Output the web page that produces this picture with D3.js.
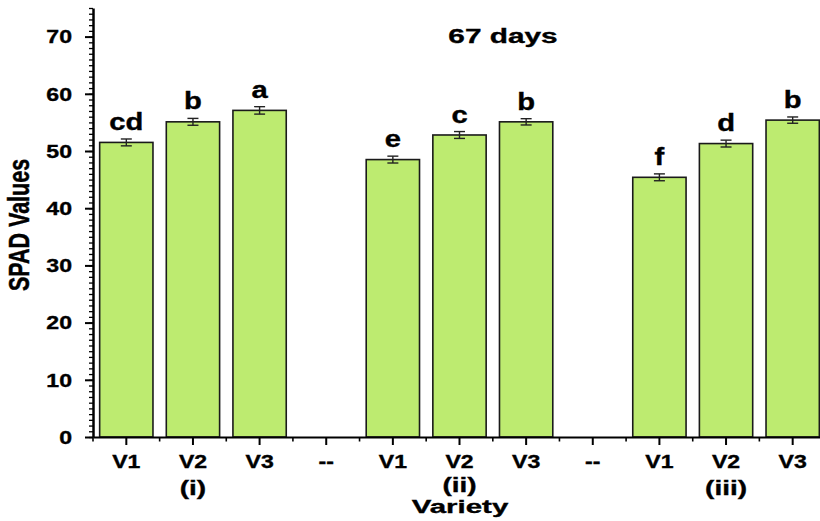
<!DOCTYPE html>
<html>
<head>
<meta charset="utf-8">
<script src="https://cdn.jsdelivr.net/npm/d3@7"></script>
<style>
body { margin: 0; background: #fff; }
svg text { font-family: "Liberation Sans", Arial, sans-serif; font-weight: bold; fill: #000; stroke: #000; stroke-width: 0.35px; }
</style>
</head>
<body>
<div id="chart"></div>
<script>
// data
var categories = ["V1", "V2", "V3", "--", "V1", "V2", "V3", "--", "V1", "V2", "V3"];
var spadValues = [51.5, 55.1, 57.1, null, 48.5, 52.8, 55.1, null, 45.4, 51.3, 55.4];
var spadErrors = [0.6, 0.6, 0.65, null, 0.6, 0.6, 0.55, null, 0.6, 0.6, 0.55];
var letters = ["cd", "b", "a", null, "e", "c", "b", null, "f", "d", "b"];
var groupLabels = ["(i)", "(ii)", "(iii)"];
var groupIndex = [1, 5, 9];
var yMajorTicks = [0, 10, 20, 30, 40, 50, 60, 70];
var titleText = "67 days";

var width = 820, height = 521;
var margin = {top: 8, right: -6, bottom: 84, left: 93};

var svg = d3.select("#chart").append("svg")
    .attr("width", width)
    .attr("height", height);

var idx = d3.range(categories.length);

var x = d3.scaleBand()
    .domain(idx)
    .range([margin.left, width - margin.right])
    .paddingInner(0.2)
    .paddingOuter(0.1);

var y = d3.scaleLinear()
    .domain([0, 75])
    .range([height - margin.bottom, margin.top]);

// stretch text horizontally like the reference
function stretch(sel, k) {
    sel.each(function () {
        var t = d3.select(this);
        var tx = +t.attr("x") || 0, ty = +t.attr("y") || 0;
        t.attr("x", 0).attr("y", 0)
         .attr("transform", "translate(" + tx + "," + ty + ") scale(" + k + ",1)");
    });
}

var bars = idx.filter(function (i) { return spadValues[i] != null; });

// bars
svg.append("g").selectAll("rect").data(bars)
    .enter().append("rect")
    .attr("x", function (i) { return x(i); })
    .attr("y", function (i) { return y(spadValues[i]); })
    .attr("width", x.bandwidth())
    .attr("height", function (i) { return y(0) - y(spadValues[i]); })
    .attr("fill", "#bdeb70")
    .attr("stroke", "#1a1a1a")
    .attr("stroke-width", 1.6);

// error bars
var eb = svg.append("g").attr("stroke", "#222").attr("stroke-width", 1.4);
bars.forEach(function (i) {
    var cx = x(i) + x.bandwidth() / 2;
    var lo = y(spadValues[i] - spadErrors[i]), hi = y(spadValues[i] + spadErrors[i]);
    eb.append("line").attr("x1", cx).attr("x2", cx).attr("y1", lo).attr("y2", hi);
    eb.append("line").attr("x1", cx - 5.5).attr("x2", cx + 5.5).attr("y1", lo).attr("y2", lo);
    eb.append("line").attr("x1", cx - 5.5).attr("x2", cx + 5.5).attr("y1", hi).attr("y2", hi);
});

// significance letters
svg.append("g").selectAll("text").data(bars)
    .enter().append("text")
    .attr("x", function (i) { return x(i) + x.bandwidth() / 2; })
    .attr("y", function (i) { return y(spadValues[i] + spadErrors[i]) - 9; })
    .attr("text-anchor", "middle")
    .style("font-size", "23px")
    .text(function (i) { return letters[i]; })
    .call(stretch, 1.27);

// y axis: major and minor ticks
var yMinor = svg.append("g")
    .attr("transform", "translate(" + margin.left + ",0)")
    .call(d3.axisLeft(y).tickValues(d3.range(0, 76, 1)).tickSize(4).tickFormat(""));
yMinor.select(".domain").remove();
yMinor.selectAll("line").attr("stroke-width", 1.3);

var yAxis = svg.append("g")
    .attr("transform", "translate(" + margin.left + ",0)")
    .call(d3.axisLeft(y).tickValues(yMajorTicks).tickSize(8).tickSizeOuter(0).tickPadding(12));
yAxis.select(".domain").attr("stroke-width", 2.5);
yAxis.selectAll(".tick line").attr("stroke-width", 2);
yAxis.selectAll("text")
    .style("font-size", "17.5px")
    .attr("dy", "0.36em")
    .attr("x", -21)
    .call(stretch, 1.32);

// x axis: major ticks at bar centres, minor ticks at band edges
var xAxis = svg.append("g")
    .attr("transform", "translate(0," + y(0) + ")")
    .call(d3.axisBottom(x).tickSize(8).tickSizeOuter(0).tickPadding(10)
        .tickFormat(function (i) { return categories[i]; }));
xAxis.select(".domain").attr("stroke-width", 2.2);
xAxis.selectAll(".tick line").attr("stroke-width", 2);
xAxis.selectAll("text")
    .style("font-size", "18px")
    .attr("dy", "0.71em")
    .call(stretch, 1.28);

var edges = d3.range(categories.length + 1).map(function (j) { return x.range()[0] + j * x.step(); });
svg.append("g").selectAll("line").data(edges)
    .enter().append("line")
    .attr("x1", function (d) { return d; })
    .attr("x2", function (d) { return d; })
    .attr("y1", y(0))
    .attr("y2", y(0) + 4.5)
    .attr("stroke", "#000")
    .attr("stroke-width", 1.6);

// group labels under the V2 ticks
svg.append("g").selectAll("text").data(groupLabels)
    .enter().append("text")
    .attr("x", function (d, j) { return x(groupIndex[j]) + x.bandwidth() / 2; })
    .attr("y", function (d, j) { return j == 1 ? 492 : 495; })
    .attr("text-anchor", "middle")
    .style("font-size", "20px")
    .text(function (d) { return d; })
    .call(stretch, 1.4);

// axis titles and chart title
svg.append("text")
    .attr("x", 460).attr("y", 513)
    .attr("text-anchor", "middle")
    .style("font-size", "19px")
    .text("Variety")
    .call(stretch, 1.55);

svg.append("text")
    .attr("text-anchor", "middle")
    .attr("transform", "translate(29,225) scale(1.35,1) rotate(-90)")
    .style("font-size", "21.5px")
    .text("SPAD Values");

svg.append("text")
    .attr("x", 503).attr("y", 43)
    .attr("text-anchor", "middle")
    .style("font-size", "21px")
    .text(titleText)
    .call(stretch, 1.42);
</script>
</body>
</html>
